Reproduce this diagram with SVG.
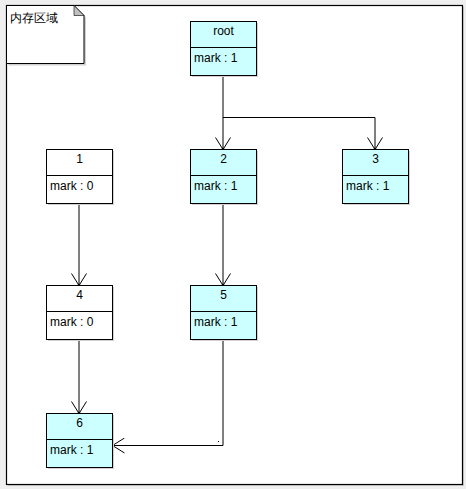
<svg xmlns="http://www.w3.org/2000/svg" width="466" height="489" viewBox="0 0 466 489">
<style>
.box{stroke:#000;stroke-width:1}
.w{fill:#ffffff}
.c{fill:#ccffff}
.sh{fill:#d0d0d0}
.t{font-family:"Liberation Sans",Arial,sans-serif;font-size:12px;fill:#000}
.m{text-anchor:middle}
.ln{fill:none;stroke:#000;stroke-width:1}
</style>
<defs>
<marker id="arr" viewBox="-14 -8 16 16" refX="0" refY="0" markerWidth="16" markerHeight="16" markerUnits="userSpaceOnUse" orient="auto">
<path d="M-12,-7.5 L0,0 L-12,7.5" fill="none" stroke="#000" stroke-width="1"/>
<circle cx="-0.5" cy="0" r="1.3" fill="#000"/>
</marker>
</defs>
<rect x="0" y="0" width="466" height="489" fill="#efefef"/>
<rect x="8" y="7" width="456" height="479" fill="#d0d0d0"/>
<rect x="6.5" y="5.5" width="456" height="479" fill="#ffffff" stroke="#000" stroke-width="1.2"/>
<g id="note">
<path d="M8.5,7.5 L76,7.5 L86,17.5 L86,65.5 L8.5,65.5 Z" fill="#d0d0d0"/>
<path d="M6.5,5.5 L74,5.5 L84,15.5 L84,63.5 L6.5,63.5 Z" fill="#fff" stroke="#000"/>
<path d="M74,5.5 L84,15.5 L74,15.5 Z" fill="#c0c0c0" stroke="#000" stroke-width="0.6"/>
<text class="t" x="10" y="22" font-family="'Liberation Sans','Noto Sans CJK SC',sans-serif">内存区域</text>
</g>
<g id="connectors">
<path class="ln" d="M223,75.5 L223,149.5" marker-end="url(#arr)"/>
<path class="ln" d="M223,117.5 L375,117.5 L375,149.5" marker-end="url(#arr)"/>
<path class="ln" d="M79,203.5 L79,285.5" marker-end="url(#arr)"/>
<path class="ln" d="M223,203.5 L223,285.5" marker-end="url(#arr)"/>
<path class="ln" d="M79,339.5 L79,413.5" marker-end="url(#arr)"/>
<path class="ln" d="M223,339.5 L223,445.5 L112.5,445.5" marker-end="url(#arr)"/>
<rect x="218" y="441" width="1" height="1" fill="#000"/>
</g>
<g id="root">
<rect class="sh" x="192" y="23" width="66" height="54"/>
<rect class="box c" x="190.5" y="21.5" width="66" height="54"/>
<line class="ln" x1="190.5" y1="47.5" x2="256.5" y2="47.5"/>
<text class="t m" x="223.5" y="35">root</text>
<text class="t" x="194" y="61.5">mark : 1</text>
</g>
<g id="n2">
<rect class="sh" x="192" y="151" width="66" height="54"/>
<rect class="box c" x="190.5" y="149.5" width="66" height="54"/>
<line class="ln" x1="190.5" y1="175.5" x2="256.5" y2="175.5"/>
<text class="t m" x="223.5" y="163">2</text>
<text class="t" x="194" y="189.5">mark : 1</text>
</g>
<g id="n3">
<rect class="sh" x="344" y="151" width="66" height="54"/>
<rect class="box c" x="342.5" y="149.5" width="66" height="54"/>
<line class="ln" x1="342.5" y1="175.5" x2="408.5" y2="175.5"/>
<text class="t m" x="375.5" y="163">3</text>
<text class="t" x="346" y="189.5">mark : 1</text>
</g>
<g id="n1">
<rect class="sh" x="48" y="151" width="66" height="54"/>
<rect class="box w" x="46.5" y="149.5" width="66" height="54"/>
<line class="ln" x1="46.5" y1="175.5" x2="112.5" y2="175.5"/>
<text class="t m" x="79.5" y="163">1</text>
<text class="t" x="50" y="189.5">mark : 0</text>
</g>
<g id="n4">
<rect class="sh" x="48" y="287" width="66" height="54"/>
<rect class="box w" x="46.5" y="285.5" width="66" height="54"/>
<line class="ln" x1="46.5" y1="311.5" x2="112.5" y2="311.5"/>
<text class="t m" x="79.5" y="299">4</text>
<text class="t" x="50" y="325.5">mark : 0</text>
</g>
<g id="n5">
<rect class="sh" x="192" y="287" width="66" height="54"/>
<rect class="box c" x="190.5" y="285.5" width="66" height="54"/>
<line class="ln" x1="190.5" y1="311.5" x2="256.5" y2="311.5"/>
<text class="t m" x="223.5" y="299">5</text>
<text class="t" x="194" y="325.5">mark : 1</text>
</g>
<g id="n6">
<rect class="sh" x="48" y="415" width="66" height="54"/>
<rect class="box c" x="46.5" y="413.5" width="66" height="54"/>
<line class="ln" x1="46.5" y1="439.5" x2="112.5" y2="439.5"/>
<text class="t m" x="79.5" y="427">6</text>
<text class="t" x="50" y="453.5">mark : 1</text>
</g>
</svg>
